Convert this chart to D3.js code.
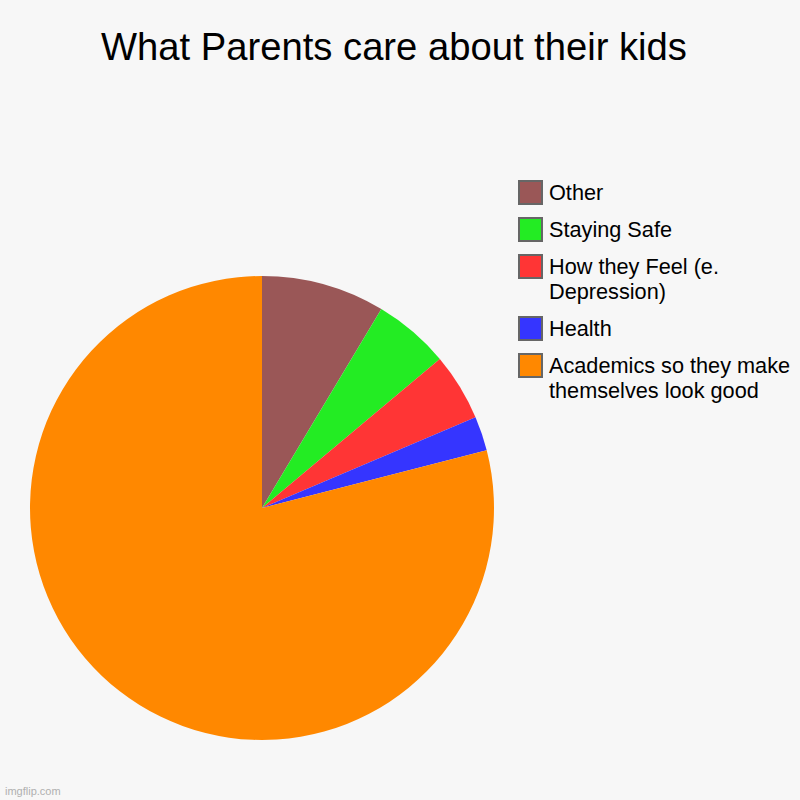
<!DOCTYPE html>
<html>
<head>
<meta charset="utf-8">
<script src="https://cdn.jsdelivr.net/npm/d3@7"></script>
<style>
  body { margin: 0; background: #f7f7f7; }
  svg { display: block; font-family: "Liberation Sans", Arial, sans-serif; }
</style>
</head>
<body>
<div class="chart"></div>
<script>
// slices, clockwise from 12 o'clock
const labels = [
  "Other",
  "Staying Safe",
  "How they Feel (e. Depression)",
  "Health",
  "Academics so they make themselves look good",
];
const values = [8.6, 5.3, 4.7, 2.4, 79.0];
const colors = ["#9a5757", "#23ec23", "#ff3535", "#3535ff", "#ff8800"];

// legend text lines (wrapped as in the picture)
const legendLines = [
  ["Other"],
  ["Staying Safe"],
  ["How they Feel (e.", "Depression)"],
  ["Health"],
  ["Academics so they make", "themselves look good"],
];

const width = 800;
const height = 800;

const svg = d3
  .select(".chart")
  .append("svg")
  .attr("width", width)
  .attr("height", height);

svg.append("rect").attr("width", width).attr("height", height).attr("fill", "#f7f7f7");

// title
svg
  .append("text")
  .attr("x", 394)
  .attr("y", 60)
  .attr("text-anchor", "middle")
  .attr("font-size", "38.2px")
  .attr("fill", "#000")
  .text("What Parents care about their kids");

// pie
const radius = 232;
const pieGroup = svg.append("g").attr("transform", "translate(262,508)");

const pie = d3.pie().sort(null).value((d) => d);
const arc = d3.arc().innerRadius(0).outerRadius(radius);

pieGroup
  .selectAll("path")
  .data(pie(values))
  .enter()
  .append("path")
  .attr("d", arc)
  .attr("fill", (d, i) => colors[i]);

// legend
const legendY = [181, 218, 255, 317, 354];
const legend = svg.append("g");

labels.forEach((label, i) => {
  let g = legend.append("g").attr("transform", `translate(519,${legendY[i]})`);

  g.append("rect")
    .attr("width", 23)
    .attr("height", 23)
    .attr("fill", colors[i])
    .attr("stroke", "#666")
    .attr("stroke-width", 2);

  let t = g
    .append("text")
    .attr("x", 30)
    .attr("y", 19)
    .attr("font-size", "21.7px")
    .attr("fill", "#000");

  legendLines[i].forEach((line, j) => {
    t.append("tspan")
      .attr("x", 30)
      .attr("dy", j == 0 ? 0 : 25)
      .text(line);
  });
});

// watermark
svg
  .append("text")
  .attr("x", 5)
  .attr("y", 795)
  .attr("font-size", "11px")
  .attr("fill", "#b0b0b0")
  .text("imgflip.com");
</script>
</body>
</html>
